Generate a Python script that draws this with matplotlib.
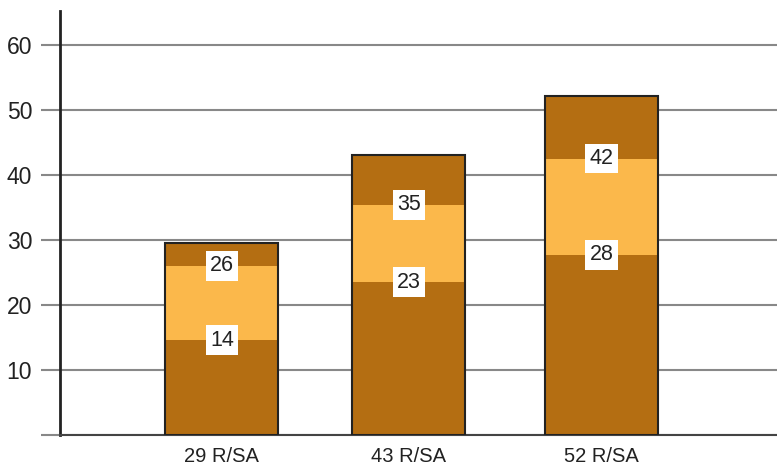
import matplotlib.pyplot as plt

categories = ['29 R/SA', '43 R/SA', '52 R/SA']
lower = [14.6, 23.5, 27.7]
upper = [26.0, 35.4, 42.5]
totals = [29.5, 43.1, 52.2]
lower_labels = ['14', '23', '28']
upper_labels = ['26', '35', '42']
yticks = [0, 10, 20, 30, 40, 50, 60]

brown = '#b46e12'
orange = '#fbb84b'

plt.rcParams['font.family'] = ['Liberation Sans', 'DejaVu Sans']

fig = plt.figure(figsize=(7.77, 4.66), dpi=100)
ax = fig.add_axes([60 / 777, 31 / 466, 717 / 777, 424 / 466])

x = [0, 0.99, 2.01]
w = 0.6

# Сегменты столбцов
ax.bar(x, lower, width=w, color=brown, zorder=3)
ax.bar(x, [u - l for u, l in zip(upper, lower)], bottom=lower, width=w, color=orange, zorder=3)
ax.bar(x, [t - u for t, u in zip(totals, upper)], bottom=upper, width=w, color=brown, zorder=3)
ax.bar(x, totals, width=w, fill=False, edgecolor='#222222', linewidth=1.5, zorder=4)

# Подписи на границах
box = dict(boxstyle='square,pad=0.2', facecolor='white', edgecolor='none')
for xi, l, u, ll, ul in zip(x, lower, upper, lower_labels, upper_labels):
    ax.text(xi, l, ll, ha='center', va='center', fontsize=15.5, color='#222222', bbox=box, zorder=5)
    ax.text(xi, u, ul, ha='center', va='center', fontsize=15.5, color='#222222', bbox=box, zorder=5)

ax.set_xlim(-0.857, 2.94)
ax.set_ylim(0, 65.2)
ax.set_yticks(yticks)
ax.set_yticklabels([''] + [str(v) for v in yticks[1:]], fontsize=16.5, color='#222222')
ax.set_xticks(x)
ax.set_xticklabels(categories, fontsize=14.5, color='#222222')

ax.yaxis.grid(True, color='#888888', linewidth=1.5, zorder=0)
ax.set_axisbelow(True)
ax.tick_params(axis='y', length=14, width=1.5, color='#888888', pad=6)
ax.tick_params(axis='x', length=0, pad=9)

for s in ['top', 'right']:
    ax.spines[s].set_visible(False)
ax.spines['left'].set_color('#222222')
ax.spines['left'].set_linewidth(2)
ax.spines['bottom'].set_color('#444444')
ax.spines['bottom'].set_linewidth(1.5)

plt.savefig('out.png', dpi=100)
